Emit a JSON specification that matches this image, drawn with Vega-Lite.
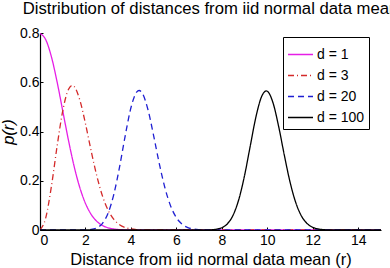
{
  "$schema": "https://vega.github.io/schema/vega-lite/v6.json",
  "width": 341,
  "height": 197,
  "autosize": {"type": "none"},
  "padding": {"left": 40, "top": 33, "right": 9, "bottom": 38},
  "background": "white",
  "config": {
    "font": "Liberation Sans",
    "view": {"stroke": null},
    "axis": {"grid": false, "domainColor": "black", "tickColor": "black", "labelColor": "black", "titleColor": "black", "labelFontSize": 14, "titleFontSize": 16.5, "titleFontWeight": "normal", "tickSize": -3, "domainWidth": 1.2}
  },
  "title": {"text": "Distribution of distances from iid normal data mean", "fontSize": 16.7, "fontWeight": "normal", "anchor": "middle", "offset": 8, "color": "black"},
  "data": {"values": [
    {"d": "d = 1", "r": 0, "p": 0.7979},
    {"d": "d = 1", "r": 0.25, "p": 0.7733},
    {"d": "d = 1", "r": 0.5, "p": 0.7041},
    {"d": "d = 1", "r": 0.75, "p": 0.6023},
    {"d": "d = 1", "r": 1.0, "p": 0.4839},
    {"d": "d = 1", "r": 1.25, "p": 0.3653},
    {"d": "d = 1", "r": 1.5, "p": 0.259},
    {"d": "d = 1", "r": 1.75, "p": 0.1726},
    {"d": "d = 1", "r": 2.0, "p": 0.108},
    {"d": "d = 1", "r": 2.25, "p": 0.0635},
    {"d": "d = 1", "r": 2.5, "p": 0.0351},
    {"d": "d = 1", "r": 2.75, "p": 0.0182},
    {"d": "d = 1", "r": 3.0, "p": 0.0089},
    {"d": "d = 1", "r": 3.25, "p": 0.0041},
    {"d": "d = 1", "r": 3.5, "p": 0.0017},
    {"d": "d = 1", "r": 3.75, "p": 0.0007},
    {"d": "d = 1", "r": 4.0, "p": 0.0003},
    {"d": "d = 1", "r": 4.5, "p": 0},
    {"d": "d = 1", "r": 15, "p": 0},

    {"d": "d = 3", "r": 0, "p": 0},
    {"d": "d = 3", "r": 0.25, "p": 0.0483},
    {"d": "d = 3", "r": 0.5, "p": 0.176},
    {"d": "d = 3", "r": 0.75, "p": 0.3388},
    {"d": "d = 3", "r": 1.0, "p": 0.4839},
    {"d": "d = 3", "r": 1.25, "p": 0.5708},
    {"d": "d = 3", "r": 1.414, "p": 0.5871},
    {"d": "d = 3", "r": 1.5, "p": 0.5828},
    {"d": "d = 3", "r": 1.75, "p": 0.5286},
    {"d": "d = 3", "r": 2.0, "p": 0.4319},
    {"d": "d = 3", "r": 2.25, "p": 0.3213},
    {"d": "d = 3", "r": 2.5, "p": 0.2191},
    {"d": "d = 3", "r": 2.75, "p": 0.1374},
    {"d": "d = 3", "r": 3.0, "p": 0.0798},
    {"d": "d = 3", "r": 3.25, "p": 0.0429},
    {"d": "d = 3", "r": 3.5, "p": 0.0214},
    {"d": "d = 3", "r": 3.75, "p": 0.0099},
    {"d": "d = 3", "r": 4.0, "p": 0.0043},
    {"d": "d = 3", "r": 4.25, "p": 0.0017},
    {"d": "d = 3", "r": 4.5, "p": 0.0007},
    {"d": "d = 3", "r": 5.0, "p": 0},
    {"d": "d = 3", "r": 15, "p": 0},

    {"d": "d = 20", "r": 0, "p": 0},
    {"d": "d = 20", "r": 1.75, "p": 0.0001},
    {"d": "d = 20", "r": 2.0, "p": 0.0004},
    {"d": "d = 20", "r": 2.25, "p": 0.0021},
    {"d": "d = 20", "r": 2.5, "p": 0.0086},
    {"d": "d = 20", "r": 2.75, "p": 0.0273},
    {"d": "d = 20", "r": 3.0, "p": 0.0695},
    {"d": "d = 20", "r": 3.25, "p": 0.1456},
    {"d": "d = 20", "r": 3.5, "p": 0.256},
    {"d": "d = 20", "r": 3.75, "p": 0.3836},
    {"d": "d = 20", "r": 4.0, "p": 0.4963},
    {"d": "d = 20", "r": 4.25, "p": 0.5599},
    {"d": "d = 20", "r": 4.359, "p": 0.5666},
    {"d": "d = 20", "r": 4.5, "p": 0.5556},
    {"d": "d = 20", "r": 4.75, "p": 0.4884},
    {"d": "d = 20", "r": 5.0, "p": 0.3826},
    {"d": "d = 20", "r": 5.25, "p": 0.2685},
    {"d": "d = 20", "r": 5.5, "p": 0.1695},
    {"d": "d = 20", "r": 5.75, "p": 0.0967},
    {"d": "d = 20", "r": 6.0, "p": 0.05},
    {"d": "d = 20", "r": 6.25, "p": 0.0235},
    {"d": "d = 20", "r": 6.5, "p": 0.01},
    {"d": "d = 20", "r": 6.75, "p": 0.0039},
    {"d": "d = 20", "r": 7.0, "p": 0.0014},
    {"d": "d = 20", "r": 7.25, "p": 0.0005},
    {"d": "d = 20", "r": 7.5, "p": 0.0001},
    {"d": "d = 20", "r": 8.0, "p": 0},
    {"d": "d = 20", "r": 15, "p": 0},

    {"d": "d = 100", "r": 0, "p": 0},
    {"d": "d = 100", "r": 7.0, "p": 0},
    {"d": "d = 100", "r": 7.25, "p": 0.0002},
    {"d": "d = 100", "r": 7.5, "p": 0.0008},
    {"d": "d = 100", "r": 7.75, "p": 0.0029},
    {"d": "d = 100", "r": 8.0, "p": 0.0094},
    {"d": "d = 100", "r": 8.25, "p": 0.026},
    {"d": "d = 100", "r": 8.5, "p": 0.0615},
    {"d": "d = 100", "r": 8.75, "p": 0.1256},
    {"d": "d = 100", "r": 9.0, "p": 0.2221},
    {"d": "d = 100", "r": 9.25, "p": 0.3418},
    {"d": "d = 100", "r": 9.5, "p": 0.4598},
    {"d": "d = 100", "r": 9.75, "p": 0.5424},
    {"d": "d = 100", "r": 9.95, "p": 0.5646},
    {"d": "d = 100", "r": 10.0, "p": 0.5633},
    {"d": "d = 100", "r": 10.25, "p": 0.5165},
    {"d": "d = 100", "r": 10.5, "p": 0.4195},
    {"d": "d = 100", "r": 10.75, "p": 0.3026},
    {"d": "d = 100", "r": 11.0, "p": 0.1943},
    {"d": "d = 100", "r": 11.25, "p": 0.1114},
    {"d": "d = 100", "r": 11.5, "p": 0.0571},
    {"d": "d = 100", "r": 11.75, "p": 0.0263},
    {"d": "d = 100", "r": 12.0, "p": 0.0108},
    {"d": "d = 100", "r": 12.25, "p": 0.004},
    {"d": "d = 100", "r": 12.5, "p": 0.0014},
    {"d": "d = 100", "r": 12.75, "p": 0.0004},
    {"d": "d = 100", "r": 13.0, "p": 0.0001},
    {"d": "d = 100", "r": 13.5, "p": 0},
    {"d": "d = 100", "r": 15, "p": 0}
  ]},
  "mark": {"type": "line", "strokeWidth": 1.3, "interpolate": "monotone", "clip": true},
  "encoding": {
    "x": {"field": "r", "type": "quantitative", "scale": {"domain": [0, 15], "nice": false},
      "axis": {"title": "Distance from iid normal data mean (r)", "values": [0, 2, 4, 6, 8, 10, 12, 14], "labelPadding": 6, "titlePadding": 4}},
    "y": {"field": "p", "type": "quantitative", "scale": {"domain": [0, 0.8], "nice": false},
      "axis": {"title": "p(r)", "titleFontStyle": "italic", "values": [0, 0.2, 0.4, 0.6, 0.8], "format": "~g", "labelPadding": 4, "titlePadding": 3}},
    "color": {"field": "d", "type": "nominal", "sort": ["d = 1", "d = 3", "d = 20", "d = 100"],
      "scale": {"domain": ["d = 1", "d = 3", "d = 20", "d = 100"], "range": ["#e61ee6", "#d42a2a", "#1f1fd2", "#000000"]},
      "legend": {"title": null, "orient": "none", "legendX": 243, "legendY": 4, "fillColor": "white", "strokeColor": "black", "padding": 4, "labelFontSize": 14, "labelColor": "black", "symbolType": "stroke", "symbolSize": 625, "symbolStrokeWidth": 1.3, "rowPadding": 0, "labelOffset": 3}},
    "strokeDash": {"field": "d", "type": "nominal", "sort": ["d = 1", "d = 3", "d = 20", "d = 100"],
      "scale": {"domain": ["d = 1", "d = 3", "d = 20", "d = 100"], "range": [[1, 0], [6, 3, 1, 3], [6, 4], [1, 0]]},
      "legend": {"title": null}}
  }
}
